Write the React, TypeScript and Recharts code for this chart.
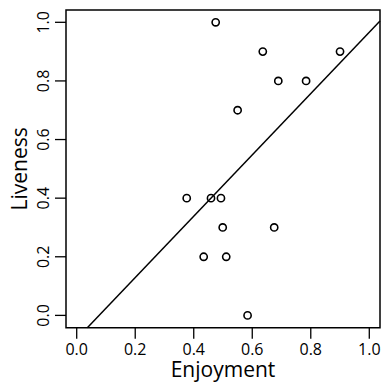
import { ScatterChart, Scatter, XAxis, YAxis, ReferenceLine, ReferenceArea } from 'recharts';

// values
const enjoyment = [0.475, 0.636, 0.9, 0.689, 0.784, 0.55, 0.376, 0.459, 0.493, 0.499, 0.675, 0.434, 0.511, 0.584];
const liveness = [1.0, 0.9, 0.9, 0.8, 0.8, 0.7, 0.4, 0.4, 0.4, 0.3, 0.3, 0.2, 0.2, 0.0];
const xTicks = [0, 0.2, 0.4, 0.6, 0.8, 1.0];
const yTicks = [0, 0.2, 0.4, 0.6, 0.8, 1.0];

// fitted line (intercept, slope)
const fitIntercept = -0.08;
const fitSlope = 1.046;

const X_DOMAIN = [-0.0366, 1.0366];
const Y_DOMAIN = [-0.042, 1.042];

const points = enjoyment.map((e, i) => ({ x: e, y: liveness[i] }));

const fitStartX = (Y_DOMAIN[0] - fitIntercept) / fitSlope;
const fitSegment = [
  { x: fitStartX, y: Y_DOMAIN[0] },
  { x: X_DOMAIN[1], y: fitIntercept + fitSlope * X_DOMAIN[1] },
];

const FONT = '"Open Sans", "DejaVu Sans", sans-serif';

const OpenCircle = (props: any) => (
  <circle cx={props.cx} cy={props.cy} r={3.6} fill="none" stroke="#000" strokeWidth={1.6} />
);

const YTick = (props: any) => {
  const { x, y, payload } = props;
  const tx = x - 4;
  return (
    <text
      x={tx}
      y={y}
      transform={`rotate(-90, ${tx}, ${y})`}
      textAnchor="middle"
      fontSize={16}
      fontFamily={FONT}
      fill="#000"
    >
      {payload.value.toFixed(1)}
    </text>
  );
};

export default function App() {
  return (
    <div style={{ position: 'absolute', left: 0, top: 0, background: '#fff' }}>
      <ScatterChart width={383} height={383} margin={{ top: 10, right: 3, left: 0, bottom: 0 }}>
        <XAxis
          type="number"
          dataKey="x"
          domain={X_DOMAIN}
          allowDataOverflow
          ticks={xTicks}
          tickFormatter={(v: number) => v.toFixed(1)}
          height={55.3}
          axisLine={false}
          tickLine={{ stroke: '#000', strokeWidth: 1.3 }}
          tickSize={11}
          tickMargin={5}
          tick={{ fill: '#000', fontSize: 16, fontFamily: FONT }}
          label={(p: any) => {
            const vb = p.viewBox;
            return (
              <text
                x={vb.x + vb.width / 2}
                y={vb.y + 49.6}
                textAnchor="middle"
                fontSize={21}
                fontFamily={FONT}
                fill="#000"
              >
                Enjoyment
              </text>
            );
          }}
        />
        <YAxis
          type="number"
          dataKey="y"
          domain={Y_DOMAIN}
          allowDataOverflow
          ticks={yTicks}
          width={66}
          axisLine={false}
          tickLine={{ stroke: '#000', strokeWidth: 1.3 }}
          tickSize={11}
          tickMargin={2}
          tick={<YTick />}
          label={(p: any) => {
            const vb = p.viewBox;
            const lx = 27;
            const ly = vb.y + vb.height / 2;
            return (
              <text
                x={lx}
                y={ly}
                transform={`rotate(-90, ${lx}, ${ly})`}
                textAnchor="middle"
                fontSize={21}
                fontFamily={FONT}
                fill="#000"
              >
                Liveness
              </text>
            );
          }}
        />
        <ReferenceArea
          x1={X_DOMAIN[0]}
          x2={X_DOMAIN[1]}
          y1={Y_DOMAIN[0]}
          y2={Y_DOMAIN[1]}
          fill="none"
          fillOpacity={0}
          stroke="#000"
          strokeWidth={1.5}
          ifOverflow="visible"
        />
        <ReferenceLine segment={fitSegment} stroke="#000" strokeWidth={1.5} ifOverflow="visible" />
        <Scatter data={points} shape={<OpenCircle />} isAnimationActive={false} />
      </ScatterChart>
    </div>
  );
}
